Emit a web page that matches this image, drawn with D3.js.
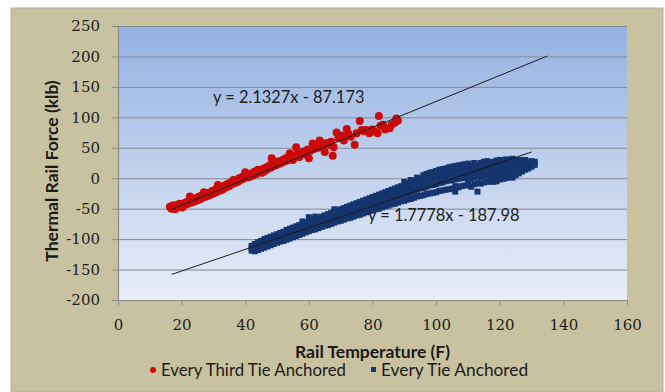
<!DOCTYPE html>
<html><head><meta charset="utf-8">
<script src="https://cdn.jsdelivr.net/npm/d3@7"></script>
<style>body{margin:0;background:#fff;}svg{display:block;}</style>
</head><body>
<svg id="chart" width="665" height="392"></svg>
<script>
// ---- data ----
const xTicks = [0,20,40,60,80,100,120,140,160];
const yTicks = [-200,-150,-100,-50,0,50,100,150,200,250];
const seriesNames = ["Every Third Tie Anchored","Every Tie Anchored"];
const trendEquations = ["y = 2.1327x - 87.173","y = 1.7778x - 187.98"];
const trendSlopes = [2.1327, 1.7778];
const trendIntercepts = [-87.173, -187.98];
const trendRanges = [[16.5,135],[16.9,130]];

const redPoints = [
[16.3,-47],[16.8,-50],[17.2,-45],[17.6,-48],[18.0,-51],[18.4,-44],[18.9,-47],[19.3,-42],[19.8,-45],[20.2,-48],
[20.7,-41],[21.1,-44],[21.6,-39],[22.0,-42],[22.6,-30],[22.9,-37],[23.3,-40],[23.8,-35],[24.2,-38],[24.7,-32],
[25.1,-36],[25.6,-30],[26.0,-34],[26.5,-28],[27.0,-23],[27.3,-31],[27.8,-26],[28.2,-29],[28.7,-24],[29.1,-27],
[29.6,-21],[30.0,-25],[30.5,-19],[30.9,-23],[31.4,-11],[31.8,-17],[32.2,-20],[32.7,-14],[33.1,-18],[33.6,-12],
[34.0,-15],[34.5,-9],[34.9,-13],[35.4,-7],[35.8,-10],[36.3,-3],[36.7,-8],[37.2,-4],[37.6,-6],[38.1,0],
[38.5,-3],[39.0,2],[39.4,-1],[40.0,10],[40.3,4],[40.8,1],[41.2,6],[41.7,3],[42.1,8],[42.6,5],
[43.0,11],[43.5,7],[44.0,14],[44.4,10],[44.9,13],[45.3,9],[45.8,16],[46.2,12],[46.7,18],[47.1,15],
[47.6,21],[48.0,17],[48.3,33],[48.6,24],[49.0,20],[49.5,26],[50.0,22],[50.5,28],[51.0,24],[51.8,30],
[52.2,27],[52.7,33],[53.2,29],[54.0,41],[54.4,33],[55.0,30],[55.5,37],[56.0,51],[56.5,40],[57.0,35],
[57.8,41],[58.3,44],[59.0,39],[59.6,47],[60.0,33],[60.5,45],[61.2,57],[61.6,48],[62.3,53],[63.0,50],
[63.4,62],[64.4,54],[65.0,43],[65.6,58],[66.3,55],[67.0,60],[67.5,37],[67.8,51],[68.7,75],[69.3,66],
[70.2,70],[71.0,62],[71.9,81],[72.4,73],[73.2,68],[74.4,55],[75.0,74],[76.0,94],[76.6,79],[77.3,77],
[78.0,79],[79.0,74],[79.8,80],[80.5,77],[81.6,74],[82.0,102],[82.5,86],[83.3,88],[84.0,80],[85.4,82],
[86.0,88],[87.0,91],[87.5,98],[88.0,95]
];

// blue series: temperature -> list of force readings at that temperature
const bluePoints = [
[42,[-119,-115,-111]],[43,[-120,-116,-112,-108]],[44,[-118,-113,-109,-105]],[45,[-116,-111,-107,-103]],
[46,[-114,-109,-105,-100]],[47,[-112,-107,-103,-98]],[48,[-110,-105,-100,-96]],[49,[-108,-103,-98,-94]],
[50,[-106,-101,-96,-92]],[51,[-104,-99,-94,-90]],[52,[-103,-97,-92,-88]],[53,[-101,-95,-90,-85]],
[54,[-99,-93,-88,-83]],[55,[-97,-91,-86,-81]],[56,[-95,-89,-84,-79]],[57,[-93,-87,-82,-77]],
[58,[-91,-85,-80,-75,-71]],[59,[-89,-83,-78,-73]],[60,[-87,-81,-76,-71,-64]],[61,[-85,-79,-74,-69]],
[62,[-84,-78,-72,-67,-63]],[63,[-82,-76,-70,-65]],[64,[-80,-74,-68,-63]],[65,[-78,-72,-66,-61]],
[66,[-77,-70,-64,-59]],[67,[-75,-68,-62,-57]],[68,[-73,-66,-60,-55,-51]],[69,[-71,-64,-58,-53]],
[70,[-70,-63,-56,-51]],[71,[-68,-61,-54,-49]],[72,[-66,-59,-52,-47]],[73,[-65,-57,-50,-45]],
[74,[-63,-55,-48,-43]],[75,[-61,-53,-46,-41]],[76,[-60,-52,-45,-39]],[77,[-58,-50,-43,-37]],
[78,[-56,-48,-41,-35]],[79,[-54,-46,-39,-33]],[80,[-53,-45,-37,-31]],[81,[-51,-43,-35,-29]],
[82,[-50,-41,-33,-27]],[83,[-48,-39,-31,-25]],[84,[-46,-37,-29,-23]],[85,[-45,-36,-28,-21]],
[86,[-43,-34,-26,-19]],[87,[-42,-32,-24,-17]],[88,[-40,-30,-22,-15]],[89,[-38,-28,-20,-13]],
[90,[-37,-27,-18,-11,-6]],[91,[-35,-25,-16,-9]],[92,[-34,-23,-14,-7,-3]],[93,[-32,-21,-12,-5]],
[94,[-30,-19,-10,-3,1]],[95,[-29,-17,-8,-1]],[96,[-28,-16,-6,1,5]],[97,[-26,-14,-4,3,7]],
[98,[-25,-12,-2,5,9]],[99,[-24,-11,-1,6,10]],[100,[-23,-10,0,7,12]],[101,[-21,-8,2,9,14]],
[102,[-20,-7,3,10,15]],[103,[-19,-5,4,11,16]],[104,[-18,-4,5,12,18]],[105,[-17,-3,6,13,19]],
[106,[-22,-13,-2,7,15,20]],[107,[-15,-1,8,16,21]],[108,[-13,0,9,17,22]],[109,[-12,1,10,18,23]],
[110,[-11,-3,5,12,19,24]],[111,[-14,-1,7,14,21]],[112,[-10,2,10,19,25]],[113,[-22,-8,4,13,22]],
[114,[-9,2,9,16,25]],[115,[-7,4,12,21,27]],[116,[-6,5,13,20,28]],[117,[-5,3,11,18,26]],
[118,[-6,2,9,17,27]],[119,[-5,4,12,22,29]],[120,[-2,7,15,25,30]],[121,[-1,7,14,22,28]],
[122,[0,9,16,27,31]],[123,[2,10,18,25,30]],[124,[1,11,20,28,32]],[125,[5,13,22,29]],
[126,[8,16,23,30]],[127,[11,18,24,29]],[128,[14,20,26,30]],[129,[16,22,27]],[130,[19,24,28]],[131,[22,27]]
];

// ---- drawing ----
const svg = d3.select("#chart");
const W = 665, H = 392;
const M = {left:118, right:627, top:26, bottom:300};
const x = d3.scaleLinear().domain([0,160]).range([M.left, M.right]);
const y = d3.scaleLinear().domain([-200,250]).range([M.bottom, M.top]);

const defs = svg.append("defs");
const grad = defs.append("linearGradient").attr("id","plotbg").attr("x1",0).attr("y1",0).attr("x2",0).attr("y2",1);
grad.append("stop").attr("offset","0%").attr("stop-color","#93b1e1");
grad.append("stop").attr("offset","55%").attr("stop-color","#c3d3ee");
grad.append("stop").attr("offset","100%").attr("stop-color","#e9eef9");

// outer frame
svg.append("rect").attr("x",11).attr("y",8).attr("width",W-13).attr("height",H-8)
  .attr("fill","#c9c2a0").attr("stroke","#b9b291").attr("stroke-width",1);

// plot area
svg.append("rect").attr("x",M.left).attr("y",M.top).attr("width",M.right-M.left).attr("height",M.bottom-M.top)
  .attr("fill","url(#plotbg)");

// gridlines
svg.append("g").selectAll("line").data(yTicks.filter(v=>v>-200)).join("line")
  .attr("x1",M.left).attr("x2",M.right).attr("y1",d=>y(d)+0.5).attr("y2",d=>y(d)+0.5)
  .attr("stroke","#868a92").attr("stroke-width",1);

// axes
const tickFont = "DejaVu Serif";
const fmt = d => String(d);
const gx = svg.append("g").attr("transform",`translate(0,${M.bottom})`)
  .call(d3.axisBottom(x).tickValues(xTicks).tickSize(5).tickSizeOuter(0).tickPadding(14).tickFormat(fmt));
const gy = svg.append("g").attr("transform",`translate(${M.left},0)`)
  .call(d3.axisLeft(y).tickValues(yTicks).tickSize(6).tickSizeOuter(0).tickPadding(12).tickFormat(fmt));
[gx,gy].forEach(g=>{
  g.attr("font-family",tickFont).attr("font-size",15);
  g.select(".domain").attr("stroke","#8a8a86").attr("stroke-width",1.2);
  g.selectAll(".tick line").attr("stroke","#8a8a86");
  g.selectAll(".tick text").attr("font-family",tickFont).attr("font-size",15).attr("fill","#1e1e1e");
});

// red series
svg.append("g").selectAll("circle").data(redPoints).join("circle")
  .attr("cx",d=>x(d[0])).attr("cy",d=>y(d[1])).attr("r",4)
  .attr("fill","#cc0a0a");

// blue series
const blueFlat = bluePoints.flatMap(([t,vals])=>vals.map(v=>[t,v]));
const sq = 6;
svg.append("g").selectAll("rect").data(blueFlat).join("rect")
  .attr("x",d=>x(d[0])-sq/2).attr("y",d=>y(d[1])-sq/2).attr("width",sq).attr("height",sq)
  .attr("fill","#15356f");

// trendlines
trendSlopes.forEach((m,i)=>{
  const [a,b] = trendRanges[i];
  svg.append("line")
    .attr("x1",x(a)).attr("y1",y(m*a+trendIntercepts[i]))
    .attr("x2",x(b)).attr("y2",y(m*b+trendIntercepts[i]))
    .attr("stroke","#1a1a1a").attr("stroke-width",1);
});

// equation labels
const labFont = "Lato, 'Open Sans', sans-serif";
svg.append("text").attr("x",213).attr("y",103).text(trendEquations[0])
  .attr("font-family",labFont).attr("font-size",16.4).attr("fill","#222");
svg.append("text").attr("x",368).attr("y",221).text(trendEquations[1])
  .attr("font-family",labFont).attr("font-size",16.4).attr("fill","#222");

// axis titles
svg.append("text").attr("x",(M.left+M.right)/2).attr("y",358).attr("text-anchor","middle")
  .attr("font-family",labFont).attr("font-weight","bold").attr("font-size",17.5).attr("fill","#1a1a1a")
  .text("Rail Temperature (F)");
svg.append("text").attr("transform",`translate(58,${(M.top+M.bottom)/2+8}) rotate(-90)`).attr("text-anchor","middle")
  .attr("font-family",labFont).attr("font-weight","bold").attr("font-size",17.5).attr("fill","#1a1a1a")
  .text("Thermal Rail Force (klb)");

// legend
const lg = svg.append("g");
lg.append("circle").attr("cx",153).attr("cy",370).attr("r",3).attr("fill","#cc0a0a");
lg.append("text").attr("x",161).attr("y",376).text(seriesNames[0])
  .attr("font-family",labFont).attr("font-size",16.8).attr("fill","#1a1a1a");
lg.append("rect").attr("x",371).attr("y",367).attr("width",5).attr("height",5).attr("fill","#15356f");
lg.append("text").attr("x",381).attr("y",376).text(seriesNames[1])
  .attr("font-family",labFont).attr("font-size",17.3).attr("fill","#1a1a1a");
</script>
</body></html>
